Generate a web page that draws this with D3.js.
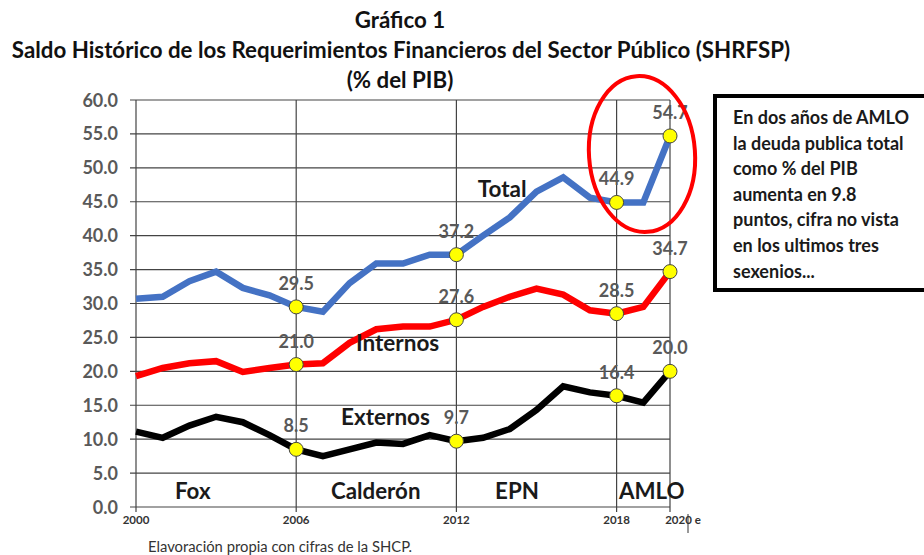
<!DOCTYPE html>
<html>
<head>
<meta charset="utf-8">
<script src="https://cdn.jsdelivr.net/npm/d3@7"></script>
<style>
  html, body { margin: 0; padding: 0; background: #fff; }
  svg { display: block; font-family: Lato, "Open Sans", sans-serif; }
</style>
</head>
<body>
<svg id="chart" width="924" height="555"></svg>
<script>
// Años de la serie (2020 estimado)
const years = [2000, 2001, 2002, 2003, 2004, 2005, 2006, 2007, 2008, 2009, 2010,
               2011, 2012, 2013, 2014, 2015, 2016, 2017, 2018, 2019, 2020];

// SHRFSP total, internos y externos (% del PIB)
const total    = [30.7, 31.0, 33.3, 34.7, 32.3, 31.2, 29.5, 28.8, 33.0, 35.9, 35.9,
                  37.2, 37.2, 40.0, 42.7, 46.5, 48.6, 45.6, 44.9, 44.9, 54.7];
const internos = [19.3, 20.5, 21.2, 21.5, 19.9, 20.5, 21.0, 21.2, 24.2, 26.2, 26.6,
                  26.6, 27.6, 29.5, 31.0, 32.2, 31.3, 29.0, 28.5, 29.5, 34.7];
const externos = [11.1, 10.2, 12.0, 13.3, 12.5, 10.6, 8.5, 7.5, 8.5, 9.5, 9.3,
                  10.6, 9.7, 10.2, 11.5, 14.3, 17.8, 16.9, 16.4, 15.4, 20.0];

// Años con marcador y etiqueta de valor
const markedYears = [2006, 2012, 2018, 2020];

// Ejes
const yTicks = [0, 5, 10, 15, 20, 25, 30, 35, 40, 45, 50, 55, 60];
const xTickYears = [2000, 2006, 2012, 2018, 2020];
const xTickLabels = ["2000", "2006", "2012", "2018", "2020 e"];

// Etiquetas de series y sexenios
const seriesNames = ["Total", "Internos", "Externos"];
const eras = ["Fox", "Calderón", "EPN", "AMLO"];
const eraYears = [2001.46, 2007.3, 2013.45, 2018.09];

const titleLines = ["Gráfico 1",
  "Saldo Histórico de los Requerimientos Financieros del Sector Público (SHRFSP)",
  "(% del PIB)"];
const noteLines = ["En dos años de AMLO", "la deuda publica total", "como % del PIB",
  "aumenta en 9.8", "puntos, cifra no vista", "en los ultimos tres", "sexenios..."];
const sourceText = "Elavoración propia con cifras de la SHCP.";

const svg = d3.select("#chart");
const plot = { left: 136, right: 670, top: 100, bottom: 507 };

const x = d3.scaleLinear().domain([2000, 2020]).range([plot.left, plot.right]);
const y = d3.scaleLinear().domain([0, 60]).range([plot.bottom, plot.top]);

// Título
svg.append("g").selectAll("text").data(titleLines).join("text")
  .attr("x", (d, i) => i === 1 ? 401 : 400)
  .attr("y", (d, i) => [28, 58, 88][i])
  .attr("text-anchor", "middle")
  .attr("font-size", 22.3).attr("font-weight", 700).attr("fill", "#111")
  .text(d => d);

// Rejilla horizontal con marcas hacia la izquierda
svg.append("g").selectAll("line").data(yTicks).join("line")
  .attr("x1", plot.left - 6).attr("x2", plot.right)
  .attr("y1", d => y(d)).attr("y2", d => y(d))
  .attr("stroke", "#444").attr("stroke-width", 1.2);

// Rejilla vertical
svg.append("g").selectAll("line").data(xTickYears).join("line")
  .attr("x1", d => x(d)).attr("x2", d => x(d))
  .attr("y1", plot.top).attr("y2", plot.bottom + 5)
  .attr("stroke", "#444").attr("stroke-width", 1.2);

// Etiquetas del eje Y
svg.append("g").selectAll("text").data(yTicks).join("text")
  .attr("x", 118).attr("y", d => y(d) + 6.5)
  .attr("text-anchor", "end")
  .attr("font-size", 18).attr("font-weight", 700).attr("fill", "#595959")
  .text(d => d.toFixed(1));

// Etiquetas del eje X
svg.append("g").selectAll("text").data(xTickYears).join("text")
  .attr("x", d => x(d) + (d === 2020 ? 13 : 0)).attr("y", 524)
  .attr("text-anchor", "middle")
  .attr("font-size", 11.5).attr("font-weight", 700).attr("fill", "#333")
  .text((d, i) => xTickLabels[i]);
svg.append("line")
  .attr("x1", x(2020) + 18).attr("x2", x(2020) + 18)
  .attr("y1", 514).attr("y2", 533)
  .attr("stroke", "#333").attr("stroke-width", 1);

// Líneas de las series
const series = [
  { name: "Total", values: total, color: "#4472C4" },
  { name: "Internos", values: internos, color: "#FF0000" },
  { name: "Externos", values: externos, color: "#000000" }
];
const line = d3.line().x((d, i) => x(years[i])).y(d => y(d));

svg.append("g").selectAll("path").data(series).join("path")
  .attr("d", s => line(s.values))
  .attr("fill", "none")
  .attr("stroke", s => s.color)
  .attr("stroke-width", 6.5)
  .attr("stroke-linejoin", "miter");

// Marcadores y valores
series.forEach(s => {
  const pts = markedYears.map(yr => ({ yr, v: s.values[years.indexOf(yr)] }));
  const g = svg.append("g");
  g.selectAll("circle").data(pts).join("circle")
    .attr("cx", d => x(d.yr)).attr("cy", d => y(d.v)).attr("r", 7)
    .attr("fill", "#FFFF00").attr("stroke", "#444").attr("stroke-width", 1);
  g.selectAll("text").data(pts).join("text")
    .attr("x", d => x(d.yr)).attr("y", d => y(d.v) - 17)
    .attr("text-anchor", "middle")
    .attr("font-size", 18).attr("font-weight", 700).attr("fill", "#595959")
    .text(d => d.v.toFixed(1));
});

// Nombres de las series
const seriesLabelPos = [[2012.8, 45.7], [2008.24, 23.0], [2007.68, 12.1]];
svg.append("g").selectAll("text").data(seriesNames).join("text")
  .attr("x", (d, i) => x(seriesLabelPos[i][0])).attr("y", (d, i) => y(seriesLabelPos[i][1]))
  .attr("text-anchor", "start")
  .attr("font-size", 22.5).attr("font-weight", 700).attr("fill", "#1a1a1a")
  .text(d => d);

// Sexenios
svg.append("g").selectAll("text").data(eras).join("text")
  .attr("x", (d, i) => x(eraYears[i])).attr("y", y(0) - 8)
  .attr("text-anchor", "start")
  .attr("font-size", 22.3).attr("font-weight", 700).attr("fill", "#1a1a1a")
  .text(d => d);

// Óvalo que resalta el periodo de AMLO
svg.append("ellipse")
  .attr("cx", 642).attr("cy", 154).attr("rx", 53).attr("ry", 78)
  .attr("transform", "rotate(-4 642 154)")
  .attr("fill", "none").attr("stroke", "#FF0000").attr("stroke-width", 4);

// Recuadro de nota
svg.append("rect")
  .attr("x", 715).attr("y", 96).attr("width", 230).attr("height", 194)
  .attr("fill", "#fff").attr("stroke", "#000").attr("stroke-width", 4);
svg.append("g").selectAll("text").data(noteLines).join("text")
  .attr("x", 733).attr("y", (d, i) => 124 + i * 25.6)
  .attr("font-size", 18).attr("font-weight", 700).attr("fill", "#1a1a1a")
  .text(d => d);

// Fuente
svg.append("text")
  .attr("x", 148).attr("y", 552)
  .attr("font-size", 14.8).attr("fill", "#333")
  .text(sourceText);
</script>
</body>
</html>
